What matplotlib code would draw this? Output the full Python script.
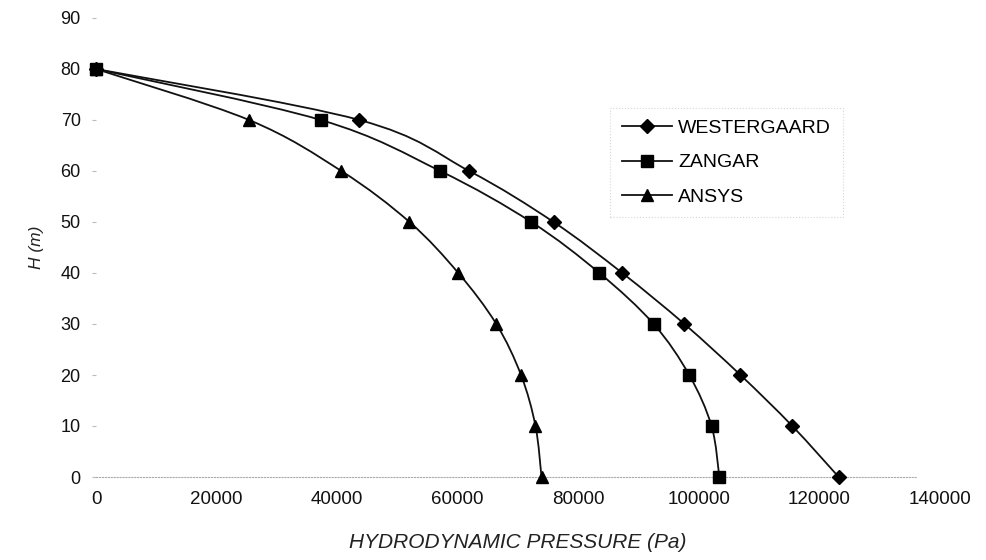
import numpy as np
import matplotlib
matplotlib.use('Agg')
import matplotlib.pyplot as plt
from matplotlib.path import Path
from matplotlib.patches import PathPatch
from matplotlib.lines import Line2D

plt.rcParams['font.family'] = ['Liberation Sans', 'DejaVu Sans']

depth = [80, 70, 60, 50, 40, 30, 20, 10, 0]
westergaard = [0, 43700, 61900, 75900, 87300, 97600, 106900, 115500, 123200]
zangar = [0, 37300, 57100, 72200, 83500, 92500, 98400, 102100, 103400]
ansys = [0, 25400, 40700, 52000, 60100, 66400, 70500, 72900, 73900]

# name, values, marker, size, zorder (squares end up on top at 80 m)
series = [('WESTERGAARD', westergaard, 'D', 7, 3),
          ('ZANGAR', zangar, 's', 8, 5),
          ('ANSYS', ansys, '^', 9, 4)]


def smooth_path(ax, xs, ys):
    # excel-like smoothed line: cubic bezier through the points, built in screen space
    pts = ax.transData.transform(np.column_stack([xs, ys]))
    n = len(pts)
    verts = [pts[0]]
    codes = [Path.MOVETO]
    for i in range(n - 1):
        p0 = pts[i - 1] if i > 0 else pts[i]
        p1 = pts[i]
        p2 = pts[i + 1]
        p3 = pts[i + 2] if i + 2 < n else pts[i + 1]
        c1 = p1 + (p2 - p0) / 6.0
        c2 = p2 - (p3 - p1) / 6.0
        verts += [c1, c2, p2]
        codes += [Path.CURVE4] * 3
    verts = ax.transData.inverted().transform(np.array(verts))
    return Path(verts, codes)


fig = plt.figure(figsize=(9.86, 5.6), dpi=100)
ax = fig.add_axes([96 / 986, 1 - 477 / 560, (940 - 96) / 986, (477 - 18) / 560])
ax.set_xlim(0, 140000)
ax.set_ylim(0, 90)

handles = []
for name, vals, mk, ms, z in series:
    ax.add_patch(PathPatch(smooth_path(ax, vals, depth), facecolor='none',
                           edgecolor='#111111', lw=1.3, clip_on=False, zorder=2))
    ax.plot(vals, depth, linestyle='none', marker=mk, ms=ms, color='black',
            clip_on=False, zorder=z)
    handles.append(Line2D([], [], color='#111111', lw=1.3, marker=mk, ms=ms,
                          markerfacecolor='black', markeredgecolor='black'))

ax.set_xticks(np.arange(0, 140001, 20000))
ax.set_yticks(np.arange(0, 91, 10))
ax.tick_params(axis='x', length=0, pad=10, labelsize=13.5, labelcolor='#111111')
ax.tick_params(axis='y', length=3, width=0.8, color='#bbbbbb', pad=8,
               labelsize=13, labelcolor='#111111')
for s in ['top', 'right', 'left']:
    ax.spines[s].set_visible(False)
ax.spines['bottom'].set_linestyle(':')
ax.spines['bottom'].set_color('#aaaaaa')
ax.spines['bottom'].set_bounds(0, 136000)

ax.set_xlabel('HYDRODYNAMIC PRESSURE (Pa)', fontsize=15, style='italic',
              color='#222222', labelpad=18)
ax.set_ylabel('H (m)', fontsize=12.5, style='italic', color='#222222', labelpad=12)

leg = ax.legend(handles, [s[0] for s in series], loc='upper left',
                bbox_to_anchor=((610 - 96) / 844, (477 - 108) / 459),
                fontsize=14, frameon=True, fancybox=False, handlelength=2.6,
                handletextpad=0.3, labelspacing=0.85, borderpad=0.6,
                borderaxespad=0)
leg.get_frame().set_edgecolor('#cccccc')
leg.get_frame().set_linestyle(':')
leg.get_frame().set_linewidth(0.8)

fig.savefig('out.png', dpi=100, facecolor='white')
